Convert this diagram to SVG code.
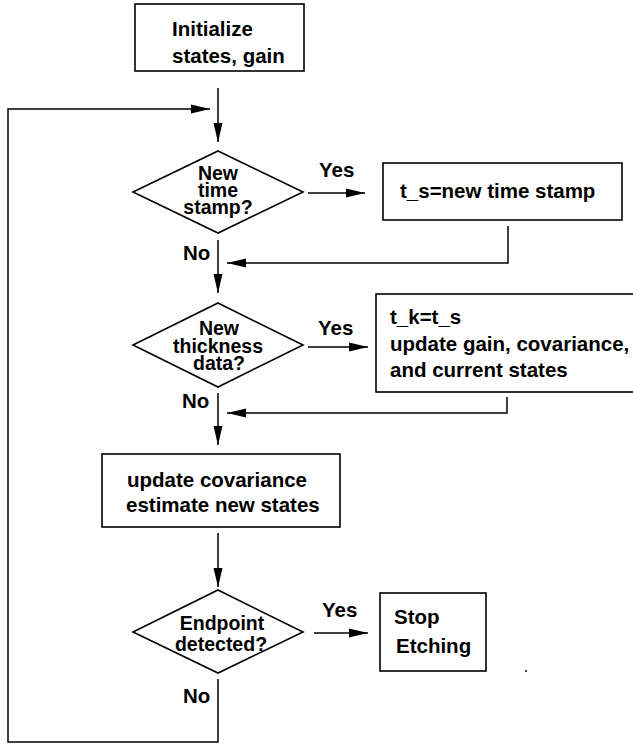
<svg xmlns="http://www.w3.org/2000/svg" width="633" height="744" viewBox="0 0 633 744">
<style>
.shape{fill:#fff;stroke:#000;stroke-width:1.6}
.t{font-family:"Liberation Sans",Arial,Helvetica,sans-serif;font-weight:bold;font-size:20.5px;fill:#000}
.d{font-size:19.5px}
.c{text-anchor:middle}
.ln{fill:none;stroke:#000;stroke-width:1.5}
</style>
<defs>
<marker id="ah" markerUnits="userSpaceOnUse" markerWidth="20" markerHeight="10" refX="19" refY="5" orient="auto">
<path d="M0,0.5 L19,5 L0,9.5 Z" fill="#000"/>
</marker>
</defs>
<rect width="633" height="744" fill="#fff"/>
<g id="connectors">
<line class="ln" x1="218" y1="88" x2="218" y2="142" marker-end="url(#ah)"/>
<polyline class="ln" points="218,679 218,742 8,742 8,109 210,109" marker-end="url(#ah)"/>
<line class="ln" x1="218" y1="240" x2="218" y2="293" marker-end="url(#ah)"/>
<line class="ln" x1="308" y1="193" x2="365" y2="193" marker-end="url(#ah)"/>
<polyline class="ln" points="508,226 508,263 227,263" marker-end="url(#ah)"/>
<line class="ln" x1="308" y1="347" x2="368" y2="347" marker-end="url(#ah)"/>
<polyline class="ln" points="507,397 507,413 227,413" marker-end="url(#ah)"/>
<line class="ln" x1="218" y1="393" x2="218" y2="445" marker-end="url(#ah)"/>
<line class="ln" x1="218" y1="533" x2="218" y2="587" marker-end="url(#ah)"/>
<line class="ln" x1="314" y1="633" x2="368" y2="633" marker-end="url(#ah)"/>
<text class="t" x="319" y="177">Yes</text>
<text class="t" x="183" y="260">No</text>
<text class="t" x="318" y="335">Yes</text>
<text class="t" x="182" y="408">No</text>
<text class="t" x="322" y="617">Yes</text>
<text class="t" x="183" y="703">No</text>
</g>
<g id="init">
<rect class="shape" x="135" y="4" width="169" height="67"/>
<text class="t" x="172" y="36">Initialize</text>
<text class="t" x="172" y="63">states, gain</text>
</g>
<g id="newtime">
<polygon class="shape" points="218,151 303,192 218,233 133,192"/>
<text class="t d c" x="218" y="180">New</text>
<text class="t d c" x="218" y="197">time</text>
<text class="t d c" x="218" y="214">stamp?</text>
</g>
<g id="ts">
<rect class="shape" x="383" y="163" width="239" height="57"/>
<text class="t" x="400" y="198">t_s=new time stamp</text>
</g>
<g id="newthick">
<polygon class="shape" points="218,303 303,345 218,387 133,345"/>
<text class="t d c" x="219" y="335">New</text>
<text class="t d c" x="218" y="353">thickness</text>
<text class="t d c" x="219" y="370">data?</text>
</g>
<g id="tk">
<rect class="shape" x="376" y="294" width="262" height="98"/>
<text class="t" x="390" y="324">t_k=t_s</text>
<text class="t" x="390" y="351">update gain, covariance,</text>
<text class="t" x="390" y="377">and current states</text>
</g>
<g id="update">
<rect class="shape" x="102" y="454" width="238" height="73"/>
<text class="t" x="127" y="487">update covariance</text>
<text class="t" x="126" y="512">estimate new states</text>
</g>
<g id="endpoint">
<polygon class="shape" points="218,590 303,632 218,673 133,632"/>
<text class="t d c" x="222" y="630">Endpoint</text>
<text class="t d c" x="221" y="651">detected?</text>
</g>
<g id="stop">
<rect class="shape" x="380" y="593" width="106" height="78"/>
<text class="t" x="394" y="624">Stop</text>
<text class="t" x="396" y="653">Etching</text>
</g>
<circle cx="526" cy="671" r="1" fill="#000"/>
</svg>
